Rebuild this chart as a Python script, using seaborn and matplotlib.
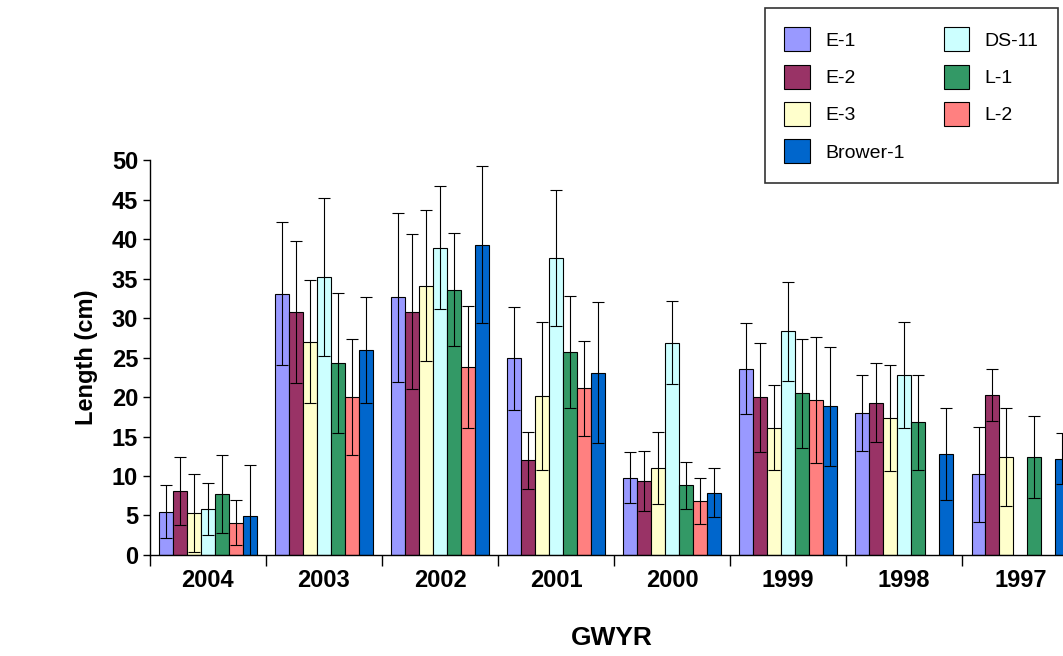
import matplotlib
matplotlib.use("Agg")
import matplotlib.pyplot as plt
import seaborn as sns
import numpy as np
import pandas as pd

years = ["2004", "2003", "2002", "2001", "2000", "1999", "1998", "1997"]
series = ["E-1", "E-2", "E-3", "DS-11", "L-1", "L-2", "Brower-1"]
colors = ["#9999FF", "#993366", "#FFFFCC", "#CCFFFF", "#339966", "#FF8080", "#0066CC"]
nan = np.nan

means = {
    "E-1":      [5.5, 33.1, 32.6, 24.9, 9.8, 23.6, 18.0, 10.2],
    "E-2":      [8.1, 30.8, 30.8, 12.0, 9.4, 20.0, 19.3, 20.3],
    "E-3":      [5.3, 27.0, 34.1, 20.1, 11.0, 16.1, 17.3, 12.4],
    "DS-11":    [5.8, 35.2, 38.9, 37.6, 26.9, 28.3, 22.8, nan],
    "L-1":      [7.7, 24.3, 33.6, 25.7, 8.8, 20.5, 16.8, 12.4],
    "L-2":      [4.1, 20.0, 23.8, 21.1, 6.8, 19.6, nan, nan],
    "Brower-1": [4.9, 25.9, 39.3, 23.1, 7.9, 18.8, 12.8, 12.2],
}
errors = {
    "E-1":      [3.3, 9.0, 10.7, 6.5, 3.2, 5.8, 4.8, 6.0],
    "E-2":      [4.3, 9.0, 9.8, 3.6, 3.8, 6.9, 5.0, 3.3],
    "E-3":      [4.9, 7.8, 9.6, 9.4, 4.6, 5.4, 6.7, 6.2],
    "DS-11":    [3.3, 10.0, 7.8, 8.6, 5.3, 6.3, 6.7, nan],
    "L-1":      [4.9, 8.9, 7.2, 7.1, 3.0, 6.9, 6.0, 5.2],
    "L-2":      [2.8, 7.3, 7.7, 6.0, 2.9, 8.0, nan, nan],
    "Brower-1": [6.5, 6.7, 9.9, 8.9, 3.1, 7.5, 5.8, 3.2],
}

rows = []
for s in series:
    for y, m in zip(years, means[s]):
        rows.append({"year": y, "series": s, "length": m})
df = pd.DataFrame(rows)

sns.set_style("white")
plt.rcParams["font.family"] = ["Liberation Sans", "DejaVu Sans"]
plt.rcParams["text.color"] = "black"
plt.rcParams["axes.labelcolor"] = "black"
plt.rcParams["xtick.color"] = "black"
plt.rcParams["ytick.color"] = "black"

fig = plt.figure(figsize=(10.63, 6.56), dpi=100)
ax = fig.add_axes([0.141, 0.154, 0.94, 0.602])
sns.barplot(data=df, x="year", y="length", hue="series", order=years,
            hue_order=series, palette=colors, width=0.84, edgecolor="black",
            linewidth=0.8, errorbar=None, ax=ax, saturation=1)

for s, cont in zip(series, ax.containers):
    for bar, m, e in zip(cont, means[s], errors[s]):
        if np.isnan(m):
            continue
        xc = bar.get_x() + bar.get_width() / 2
        ax.errorbar(xc, m, yerr=e, fmt="none", ecolor="black",
                    elinewidth=0.8, capsize=4, capthick=0.8)

ax.set_xlim(-0.47, 8.11)
ax.set_ylim(0, 50)
ax.set_yticks(range(0, 51, 5))
ax.set_xlabel("GWYR", fontsize=19, fontweight="bold")
ax.xaxis.set_label_coords(0.462, -0.18)
ax.set_ylabel("Length (cm)", fontsize=17, fontweight="bold", labelpad=10)
for lab in ax.get_xticklabels() + ax.get_yticklabels():
    lab.set_fontweight("bold")
    lab.set_fontsize(17)
ax.tick_params(axis="x", length=0, pad=10)
ax.tick_params(axis="y", left=True, length=5, width=1, direction="out")
ax.set_xticks(np.arange(-0.5, 8, 1), minor=True)
ax.tick_params(axis="x", which="minor", bottom=True, length=8, width=1, direction="out")
sns.despine(ax=ax, top=True, right=True)
for sp in ["left", "bottom"]:
    ax.spines[sp].set_color("black")
    ax.spines[sp].set_linewidth(1)

handles, labels = ax.get_legend_handles_labels()
order = [0, 1, 2, 6, 3, 4, 5]
ax.legend([handles[i] for i in order], [labels[i] for i in order], ncol=2,
          loc="upper left", bbox_to_anchor=(765 / 1063, 1 - 8 / 656),
          bbox_transform=fig.transFigure, frameon=True, fancybox=False,
          edgecolor="black", fontsize=14, handlelength=1.3, handleheight=1.5,
          columnspacing=2.0, borderpad=1.0, labelspacing=0.7,
          borderaxespad=0)
ax.get_legend().get_frame().set_linewidth(1.2)

fig.savefig("out.png", dpi=100)
